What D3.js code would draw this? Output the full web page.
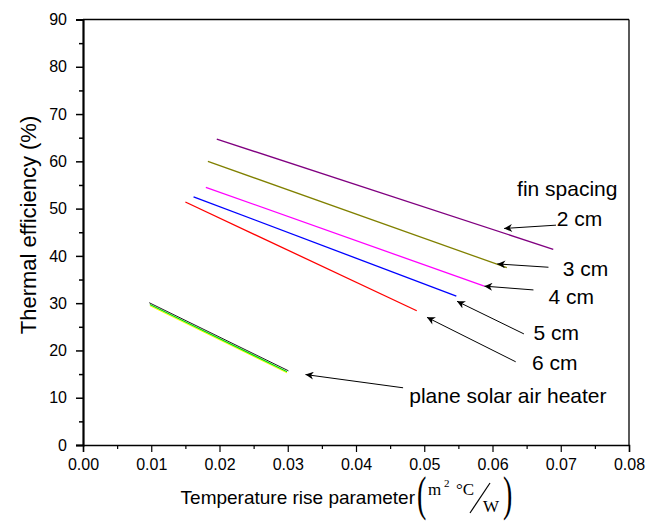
<!DOCTYPE html>
<html>
<head>
<meta charset="utf-8">
<script src="https://cdn.jsdelivr.net/npm/d3@7"></script>
<style>
  html, body { margin: 0; padding: 0; background: #fff; }
  svg { display: block; font-family: Arial, "Liberation Sans", sans-serif; }
</style>
</head>
<body>
<svg id="chart" width="662" height="522"></svg>
<script>
// Fin spacing series: straight efficiency lines between two end points
const finLabels = ["2 cm", "3 cm", "4 cm", "5 cm", "6 cm"];
const finXStart = [0.0196, 0.0183, 0.0180, 0.0162, 0.0150];
const finXEnd   = [0.0689, 0.0621, 0.0588, 0.0547, 0.0489];
const finEffStart = [64.7, 60.0, 54.5, 52.5, 51.4];
const finEffEnd   = [41.4, 37.5, 33.6, 31.5, 28.4];

// Plane solar air heater (two overlapping curves)
const planeX    = [0.0097, 0.0301];
const planeEff  = [30.1, 15.7];
const planeX2   = [0.0098, 0.0299];
const planeEff2 = [29.7, 15.5];

// Axis ticks
const xTicks = [0, 0.01, 0.02, 0.03, 0.04, 0.05, 0.06, 0.07, 0.08];
const yTicks = [0, 10, 20, 30, 40, 50, 60, 70, 80, 90];

const finColors = ["#800080", "#808000", "#ff00ff", "#0000ff", "#ff0000"];

const svg = d3.select("#chart");
const plotL = 83, plotR = 629, plotT = 19.5, plotB = 445;

const x = d3.scaleLinear().domain([0, 0.08]).range([plotL, plotR]);
const y = d3.scaleLinear().domain([0, 90]).range([plotB, plotT]);

// arrow marker
svg.append("defs").append("marker")
  .attr("id", "arrow")
  .attr("viewBox", "0 0 10 10")
  .attr("refX", 10).attr("refY", 5)
  .attr("markerWidth", 11).attr("markerHeight", 8)
  .attr("markerUnits", "userSpaceOnUse")
  .attr("orient", "auto")
  .append("path").attr("d", "M0,0 L10,5 L0,10 L3,5 Z").attr("fill", "#000");

// frame
svg.append("line").attr("x1", plotL).attr("x2", plotR).attr("y1", plotT).attr("y2", plotT)
  .attr("stroke", "#000").attr("stroke-width", 1.3);
svg.append("line").attr("x1", plotR).attr("x2", plotR).attr("y1", plotT).attr("y2", plotB)
  .attr("stroke", "#000").attr("stroke-width", 1.3);

// x axis
const xAxis = svg.append("g").attr("transform", `translate(0,${plotB})`)
  .call(d3.axisBottom(x).tickValues(xTicks).tickFormat(d3.format(".2f")).tickSizeOuter(0).tickSize(7).tickPadding(7));
xAxis.select(".domain").attr("stroke-width", 1.5);
xAxis.selectAll(".tick line").attr("stroke-width", 1.2);
xAxis.selectAll("text").attr("font-size", 16).attr("font-family", "Arial, 'Liberation Sans', sans-serif").attr("fill", "#000");
svg.append("g").attr("transform", `translate(0,${plotB})`)
  .call(d3.axisBottom(x).tickValues(d3.range(0.005, 0.08, 0.01)).tickFormat("").tickSizeOuter(0).tickSize(4))
  .call(g => g.select(".domain").remove())
  .selectAll(".tick line").attr("stroke-width", 1.2);

// y axis
const yAxis = svg.append("g").attr("transform", `translate(${plotL},0)`)
  .call(d3.axisLeft(y).tickValues(yTicks).tickSizeOuter(0).tickSize(7).tickPadding(9));
yAxis.select(".domain").attr("stroke-width", 2.2);
yAxis.selectAll(".tick line").attr("stroke-width", 1.5);
yAxis.selectAll("text").attr("font-size", 16).attr("font-family", "Arial, 'Liberation Sans', sans-serif").attr("fill", "#000");
svg.append("g").attr("transform", `translate(${plotL},0)`)
  .call(d3.axisLeft(y).tickValues(d3.range(5, 90, 10)).tickFormat("").tickSizeOuter(0).tickSize(4))
  .call(g => g.select(".domain").remove())
  .selectAll(".tick line").attr("stroke-width", 1.5);

// fin spacing lines
finLabels.forEach((lab, i) => {
  svg.append("line")
    .attr("x1", x(finXStart[i])).attr("y1", y(finEffStart[i]))
    .attr("x2", x(finXEnd[i])).attr("y2", y(finEffEnd[i]))
    .attr("stroke", finColors[i]).attr("stroke-width", 1.3);
});

// plane heater lines
const line = d3.line().x(d => x(d[0])).y(d => y(d[1]));
svg.append("path").datum(d3.zip(planeX2, planeEff2.map(v => v - 0.25)))
  .attr("d", line).attr("stroke", "#ffff00").attr("stroke-width", 1).attr("fill", "none");
svg.append("path").datum(d3.zip(planeX2, planeEff2))
  .attr("d", line).attr("stroke", "#00dd00").attr("stroke-width", 1.2).attr("fill", "none");
svg.append("path").datum(d3.zip(planeX, planeEff))
  .attr("d", line).attr("stroke", "#222").attr("stroke-width", 1).attr("fill", "none");

// annotations: arrow tail, arrow tip and label anchor in data units
const notes = [
  { t: "2 cm", tail: [0.0693, 46.5], tip: [0.0617, 45.8], at: [0.0694, 47.9] },
  { t: "3 cm", tail: [0.0682, 37.6], tip: [0.0607, 38.3], at: [0.0703, 37.4] },
  { t: "4 cm", tail: [0.0660, 32.8], tip: [0.0588, 33.6], at: [0.0682, 31.5] },
  { t: "5 cm", tail: [0.0646, 23.5], tip: [0.0548, 30.4], at: [0.0660, 23.7] },
  { t: "6 cm", tail: [0.0634, 17.6], tip: [0.0504, 27.0], at: [0.0658, 17.4] },
  { t: "plane solar air heater", tail: [0.0469, 12.1], tip: [0.0326, 14.9], at: [0.0478, 10.4] }
];
notes.forEach(n => {
  svg.append("line")
    .attr("x1", x(n.tail[0])).attr("y1", y(n.tail[1]))
    .attr("x2", x(n.tip[0])).attr("y2", y(n.tip[1]))
    .attr("stroke", "#000").attr("stroke-width", 1)
    .attr("marker-end", "url(#arrow)");
  svg.append("text").attr("x", x(n.at[0])).attr("y", y(n.at[1]))
    .attr("dominant-baseline", "central")
    .attr("font-size", 21).text(n.t);
});
svg.append("text").attr("x", x(0.0636)).attr("y", y(54.3))
  .attr("dominant-baseline", "central").attr("font-size", 21).text("fin spacing");

// y axis title
svg.append("text")
  .attr("transform", `translate(28,225) rotate(-90)`)
  .attr("text-anchor", "middle").attr("dominant-baseline", "central")
  .attr("font-size", 22).text("Thermal efficiency (%)");

// x axis title with unit fraction
const xt = svg.append("g");
xt.append("text").attr("x", 415).attr("y", 504).attr("text-anchor", "end")
  .attr("font-size", 19).text("Temperature rise parameter");
const serif = "'Liberation Serif', 'DejaVu Serif', serif";
xt.append("text").attr("transform", "translate(417,510) scale(1,1.75)")
  .attr("font-family", serif).attr("font-size", 28).text("(");
xt.append("text").attr("x", 428).attr("y", 495).attr("font-family", serif)
  .attr("font-size", 17).text("m");
xt.append("text").attr("x", 444).attr("y", 487).attr("font-family", serif)
  .attr("font-size", 11).text("2");
xt.append("text").attr("x", 456).attr("y", 495).attr("font-family", serif)
  .attr("font-size", 17).text("°C");
xt.append("line").attr("x1", 470).attr("y1", 513).attr("x2", 490).attr("y2", 483)
  .attr("stroke", "#000").attr("stroke-width", 1.2);
xt.append("text").attr("x", 483).attr("y", 512).attr("font-family", serif)
  .attr("font-size", 17).text("W");
xt.append("text").attr("transform", "translate(503,510) scale(1,1.75)")
  .attr("font-family", serif).attr("font-size", 28).text(")");
</script>
</body>
</html>
